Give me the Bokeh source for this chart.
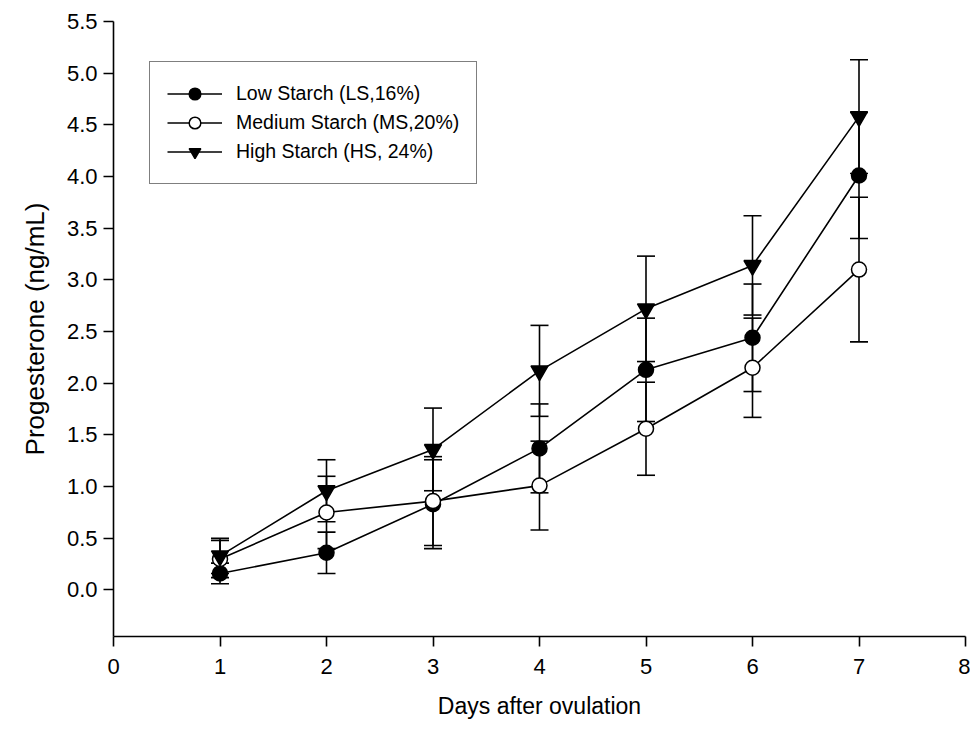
from bokeh.plotting import figure
from bokeh.models import (ColumnDataSource, Whisker, TeeHead, Legend, LegendItem,
                          FixedTicker, PrintfTickFormatter, Range1d)
from bokeh.embed import file_html
from bokeh.resources import INLINE

# ---- data ----
days = [1, 2, 3, 4, 5, 6, 7]
ls_mean = [0.16, 0.36, 0.83, 1.37, 2.13, 2.44, 4.01]
ls_err = [0.10, 0.20, 0.43, 0.43, 0.50, 0.52, 0.61]
ms_mean = [0.30, 0.75, 0.86, 1.01, 1.56, 2.15, 3.10]
ms_err = [0.18, 0.35, 0.43, 0.43, 0.45, 0.48, 0.70]
hs_mean = [0.33, 0.96, 1.36, 2.12, 2.72, 3.14, 4.58]
hs_err = [0.17, 0.30, 0.40, 0.44, 0.51, 0.48, 0.55]
labels = ["Low Starch (LS,16%)", "Medium Starch (MS,20%)", "High Starch (HS, 24%)"]
x_ticks = [0, 1, 2, 3, 4, 5, 6, 7, 8]
y_ticks = [0.0, 0.5, 1.0, 1.5, 2.0, 2.5, 3.0, 3.5, 4.0, 4.5, 5.0, 5.5]

FONT = "Liberation Sans"

p = figure(width=970, height=731, output_backend="svg", toolbar_location=None,
           x_range=Range1d(0, 8), y_range=Range1d(-0.45, 5.5),
           min_border_left=113, min_border_right=5, min_border_top=21,
           min_border_bottom=95)
p.outline_line_color = None
p.xgrid.visible = False
p.ygrid.visible = False
p.background_fill_color = "white"
p.border_fill_color = "white"

series = [
    (ls_mean, ls_err, "circle", "black", 15),
    (ms_mean, ms_err, "circle", "white", 15),
    (hs_mean, hs_err, "inverted_triangle", "black", 17),
]

items = []
for (mean, err, marker, fill, size), lab in zip(series, labels):
    src = ColumnDataSource(dict(
        x=days, y=mean,
        upper=[m + e for m, e in zip(mean, err)],
        lower=[m - e for m, e in zip(mean, err)],
    ))
    w = Whisker(source=src, base="x", upper="upper", lower="lower",
                line_color="black", line_width=1.6,
                upper_head=TeeHead(size=18, line_color="black", line_width=1.6),
                lower_head=TeeHead(size=18, line_color="black", line_width=1.6))
    p.add_layout(w)
    lr = p.line("x", "y", source=src, line_color="black", line_width=1.6)
    mr = p.scatter("x", "y", source=src, marker=marker, size=size,
                   fill_color=fill, line_color="black", line_width=1.5)
    items.append(LegendItem(label=lab, renderers=[lr, mr]))

legend = Legend(items=items, location=(36, 452),
                border_line_color="black", border_line_width=1.5,
                background_fill_alpha=1.0, background_fill_color="white",
                label_text_font=FONT, label_text_font_size="19.5px",
                label_text_color="black",
                glyph_width=55, glyph_height=29, label_standoff=14,
                spacing=0, padding=17, margin=0)
p.add_layout(legend)

for ax in (p.xaxis[0], p.yaxis[0]):
    ax.axis_line_color = "black"
    ax.axis_line_width = 1.6
    ax.major_tick_line_color = "black"
    ax.major_tick_line_width = 1.6
    ax.major_tick_out = 10
    ax.major_tick_in = 0
    ax.minor_tick_line_color = None
    ax.major_label_text_font = FONT
    ax.major_label_text_font_size = "22px"
    ax.major_label_text_color = "black"
    ax.axis_label_text_font = FONT
    ax.axis_label_text_font_style = "normal"
    ax.axis_label_text_color = "black"

p.xaxis[0].ticker = FixedTicker(ticks=x_ticks)
p.xaxis[0].axis_label = "Days after ovulation"
p.xaxis[0].axis_label_text_font_size = "23px"
p.xaxis[0].major_label_standoff = 12
p.xaxis[0].axis_label_standoff = 16

p.yaxis[0].ticker = FixedTicker(ticks=y_ticks)
p.yaxis[0].formatter = PrintfTickFormatter(format="%.1f")
p.yaxis[0].axis_label = "Progesterone (ng/mL)"
p.yaxis[0].axis_label_text_font_size = "26px"
p.yaxis[0].major_label_standoff = 6
p.yaxis[0].axis_label_standoff = 14

open("out.html", "w").write(file_html(p, INLINE))
